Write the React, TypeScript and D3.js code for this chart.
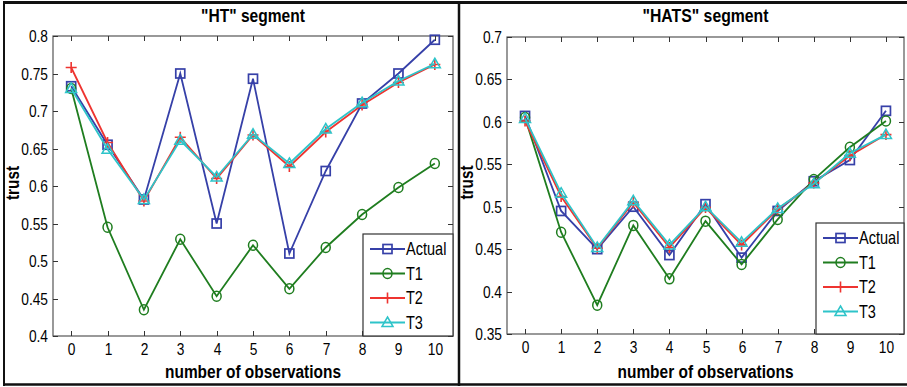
import { useEffect, useRef } from "react";
import * as d3 from "d3";

const observations = [0, 1, 2, 3, 4, 5, 6, 7, 8, 9, 10];
const seriesNames = ["Actual", "T1", "T2", "T3"];

// "HT" segment
const htActual = [0.733, 0.655, 0.582, 0.75, 0.55, 0.743, 0.51, 0.62, 0.71, 0.75, 0.795];
const htT1 = [0.73, 0.545, 0.435, 0.529, 0.453, 0.521, 0.463, 0.518, 0.562, 0.598, 0.63];
const htT2 = [0.758, 0.658, 0.58, 0.665, 0.61, 0.668, 0.626, 0.672, 0.708, 0.738, 0.762];
const htT3 = [0.73, 0.649, 0.582, 0.661, 0.612, 0.669, 0.63, 0.676, 0.711, 0.74, 0.763];
const htTicks = [0.4, 0.45, 0.5, 0.55, 0.6, 0.65, 0.7, 0.75, 0.8];

// "HATS" segment
const hatsActual = [0.607, 0.495, 0.45, 0.5, 0.443, 0.503, 0.44, 0.495, 0.53, 0.555, 0.613];
const hatsT1 = [0.605, 0.47, 0.384, 0.478, 0.415, 0.483, 0.432, 0.485, 0.532, 0.57, 0.601];
const hatsT2 = [0.601, 0.512, 0.451, 0.505, 0.452, 0.499, 0.455, 0.497, 0.528, 0.56, 0.585];
const hatsT3 = [0.604, 0.516, 0.452, 0.507, 0.455, 0.5, 0.458, 0.498, 0.527, 0.563, 0.585];
const hatsTicks = [0.35, 0.4, 0.45, 0.5, 0.55, 0.6, 0.65, 0.7];

const colors = ["#3640a8", "#1f7d1f", "#ee3430", "#2ec4c9"];
const markers = ["square", "circle", "plus", "triangle"];

const font = "'Liberation Sans', Arial, sans-serif";

type PanelOpts = {
  title: string;
  titleW: number;
  series: number[][];
  ticks: number[];
  box: { left: number; right: number; top: number; bottom: number };
  legend: { x: number; y: number; w: number; h: number };
};

// condensed text, like the narrow face in the original figure
function narrowText(g: any, x: number, y: number, txt: string, size: number, anchor: string, sx = 0.86) {
  return g.append("text")
    .attr("transform", `translate(${x},${y}) scale(${sx},1)`)
    .attr("dy", "0.36em")
    .attr("text-anchor", anchor)
    .style("font-family", font)
    .style("font-size", `${size}px`)
    .text(txt);
}

function boldText(g: any, x: number, y: number, txt: string, size: number, width: number) {
  return g.append("text")
    .attr("x", x).attr("y", y)
    .attr("text-anchor", "middle")
    .attr("textLength", width)
    .attr("lengthAdjust", "spacingAndGlyphs")
    .style("font-family", font)
    .style("font-weight", "bold")
    .style("font-size", `${size}px`)
    .text(txt);
}

function drawMarker(g: any, kind: string, x: number, y: number, color: string) {
  if (kind === "square") {
    g.append("rect").attr("x", x - 4.5).attr("y", y - 4.5).attr("width", 9).attr("height", 9)
      .attr("fill", "none").attr("stroke", color).attr("stroke-width", 1.7);
  } else if (kind === "circle") {
    g.append("ellipse").attr("cx", x).attr("cy", y).attr("rx", 4.5).attr("ry", 5)
      .attr("fill", "none").attr("stroke", color).attr("stroke-width", 1.5);
  } else if (kind === "plus") {
    g.append("path").attr("d", `M${x - 5.5},${y}H${x + 5.5}M${x},${y - 5.5}V${y + 5.5}`)
      .attr("stroke", color).attr("stroke-width", 1.6);
  } else {
    g.append("path").attr("d", `M${x},${y - 5.5}L${x + 5.5},${y + 4}L${x - 5.5},${y + 4}Z`)
      .attr("fill", "none").attr("stroke", color).attr("stroke-width", 1.5);
  }
}

function drawPanel(svg: any, o: PanelOpts) {
  const { box } = o;
  const x = d3.scaleLinear().domain([-0.5, 10.5]).range([box.left, box.right]);
  const y = d3.scaleLinear()
    .domain([o.ticks[0], o.ticks[o.ticks.length - 1]])
    .range([box.bottom, box.top]);

  const g = svg.append("g");
  const cx = (box.left + box.right) / 2;

  boldText(g, cx, 22, o.title, 18, o.titleW);

  // plot box
  g.append("rect")
    .attr("x", box.left).attr("y", box.top)
    .attr("width", box.right - box.left).attr("height", box.bottom - box.top)
    .attr("fill", "white").attr("stroke", "#555").attr("stroke-width", 1.2);

  // ticks inward on all four sides
  const tk = 5;
  o.ticks.forEach((t) => {
    const yy = Math.round(y(t)) + 0.5;
    g.append("line").attr("x1", box.left).attr("x2", box.left + tk).attr("y1", yy).attr("y2", yy)
      .attr("stroke", "#333");
    g.append("line").attr("x1", box.right - tk).attr("x2", box.right).attr("y1", yy).attr("y2", yy)
      .attr("stroke", "#333");
    narrowText(g, box.left - 5, yy, String(t), 16, "end");
  });
  observations.forEach((t) => {
    const xx = Math.round(x(t)) + 0.5;
    g.append("line").attr("x1", xx).attr("x2", xx).attr("y1", box.bottom).attr("y2", box.bottom - tk)
      .attr("stroke", "#333");
    g.append("line").attr("x1", xx).attr("x2", xx).attr("y1", box.top).attr("y2", box.top + tk)
      .attr("stroke", "#333");
    narrowText(g, xx, box.bottom + 13, String(t), 16, "middle");
  });

  // axis labels
  boldText(g, cx, 378, "number of observations", 18, 176);
  g.append("text")
    .attr("transform", `translate(${box.left - 34},${(box.top + box.bottom) / 2 - 3}) rotate(-90)`)
    .attr("text-anchor", "middle")
    .attr("textLength", 34)
    .attr("lengthAdjust", "spacingAndGlyphs")
    .style("font-family", font).style("font-weight", "bold").style("font-size", "18px")
    .text("trust");

  // lines + markers
  const line = d3.line<number>().x((_, i) => x(observations[i])).y((d) => y(d));
  o.series.forEach((vals, si) => {
    g.append("path").attr("d", line(vals)).attr("fill", "none")
      .attr("stroke", colors[si]).attr("stroke-width", 1.8);
    vals.forEach((v, i) => drawMarker(g, markers[si], x(observations[i]), y(v), colors[si]));
  });

  // legend
  const L = o.legend;
  const lg = g.append("g");
  lg.append("rect").attr("x", L.x).attr("y", L.y).attr("width", L.w).attr("height", L.h)
    .attr("fill", "white").attr("stroke", "#333").attr("stroke-width", 1.2);
  seriesNames.forEach((name, i) => {
    const ly = L.y + 15 + i * 24.5;
    lg.append("line").attr("x1", L.x + 7).attr("x2", L.x + 42).attr("y1", ly).attr("y2", ly)
      .attr("stroke", colors[i]).attr("stroke-width", 1.8);
    drawMarker(lg, markers[i], L.x + 24.5, ly, colors[i]);
    narrowText(lg, L.x + 43, ly, name, 17.5, "start", 0.83);
  });
}

export default function App() {
  const svgRef = useRef<SVGSVGElement>(null);

  useEffect(() => {
    const svg = d3.select(svgRef.current);
    svg.selectAll("*").remove();

    svg.append("rect").attr("width", 907).attr("height", 387).attr("fill", "white");

    drawPanel(svg, {
      title: '"HT" segment',
      titleW: 104,
      series: [htActual, htT1, htT2, htT3],
      ticks: htTicks,
      box: { left: 53, right: 453, top: 36, bottom: 336 },
      legend: { x: 363, y: 234, w: 90, h: 102 },
    });
    drawPanel(svg, {
      title: '"HATS" segment',
      titleW: 126,
      series: [hatsActual, hatsT1, hatsT2, hatsT3],
      ticks: hatsTicks,
      box: { left: 507, right: 904, top: 37, bottom: 334 },
      legend: { x: 816, y: 223, w: 88, h: 111 },
    });

    // outer frame
    const fr = svg.append("g").attr("stroke", "#111").attr("fill", "none");
    fr.append("line").attr("x1", 3).attr("x2", 907).attr("y1", 2.5).attr("y2", 2.5).attr("stroke-width", 3);
    fr.append("line").attr("x1", 4).attr("x2", 4).attr("y1", 1).attr("y2", 386).attr("stroke-width", 2);
    fr.append("line").attr("x1", 459).attr("x2", 459).attr("y1", 1).attr("y2", 386).attr("stroke-width", 2.5);
    fr.append("line").attr("x1", 3).attr("x2", 907).attr("y1", 384.5).attr("y2", 384.5).attr("stroke-width", 2.5);
  }, []);

  return (
    <svg
      ref={svgRef}
      width={907}
      height={387}
      style={{ position: "absolute", left: 0, top: 0 }}
    />
  );
}
